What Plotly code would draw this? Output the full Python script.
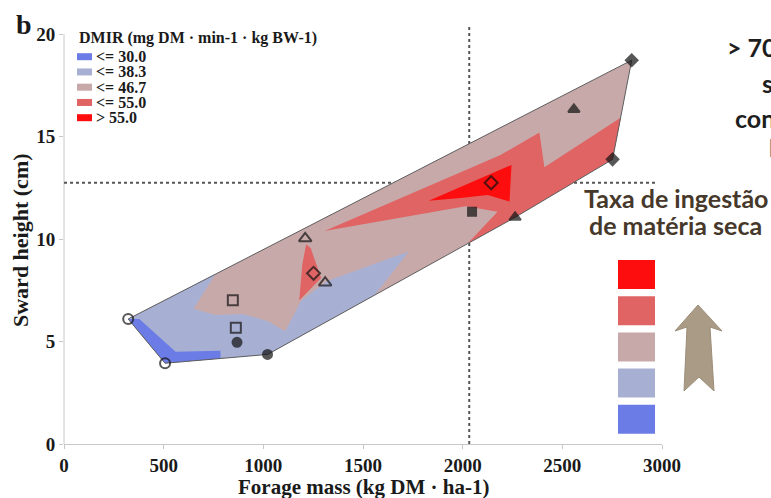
import plotly.graph_objects as go

# ---------------------------------------------------------------- data
# Paddock observations: forage mass (kg DM/ha) vs sward height (cm)
forage_mass = [322, 507, 868, 1021, 847, 862, 1210, 1310, 1252, 2143,
               2047, 2263, 2558, 2752, 2848]
sward_height = [6.10, 3.94, 4.96, 4.37, 7.02, 5.67, 10.03, 7.87, 8.33, 12.75,
                11.33, 11.06, 16.33, 13.89, 18.73]
marker_symbol = ["circle-open", "circle-open", "circle", "circle",
                 "square-open", "square-open", "triangle-up-open", "triangle-up-open",
                 "diamond-open", "diamond-open", "square", "triangle-up",
                 "triangle-up", "diamond", "diamond"]

# Reference levels (dotted guides)
ref_forage_mass = 2033
ref_sward_height = 12.75
ref_height_line_end = 2965

# DMIR classes
dmir_labels = ["<= 30.0", "<= 38.3", "<= 46.7", "<= 55.0", "> 55.0"]
dmir_colors = ["#6c7ce6", "#a7b0d2", "#c8a9aa", "#e06464", "#fd0d0d"]

# Class boundaries of the interpolated DMIR surface
dmir_30_x = [322, 507, 785, 785, 560, 378]
dmir_30_y = [6.10, 3.94, 4.17, 4.55, 4.50, 6.10]

dmir_38_x = [322, 760, 650, 760, 900, 1020, 1110, 1190, 1320, 1730, 1560, 1021, 507]
dmir_38_y = [6.10, 8.30, 6.60, 6.30, 6.35, 6.00, 5.50, 7.00, 7.95, 9.40, 7.28, 4.37, 3.94]

dmir_55a_x = [1215, 1238, 1290, 1180, 1196]
dmir_55a_y = [9.75, 9.55, 8.10, 7.00, 8.80]

dmir_55b_x = [1307, 2190, 2385, 2410, 2794, 2752, 2263, 2025, 2175, 2015]
dmir_55b_y = [10.40, 14.10, 15.20, 13.50, 15.93, 13.89, 11.06, 9.78, 11.33, 11.60]

dmir_hi_x = [1830, 2245, 2235, 2125, 1990]
dmir_hi_y = [11.87, 13.62, 11.83, 12.15, 12.00]

x_ticks = [0, 500, 1000, 1500, 2000, 2500, 3000]
y_ticks = [0, 5, 10, 15, 20]

# ---------------------------------------------------------------- layout geometry
W, H = 771, 498
PL, PR, PT, PB = 64, 662, 27, 444
SERIF = "Liberation Serif, Times New Roman, serif"
SANS = "Lato, Open Sans, sans-serif"


def px(x):
    return (x - PL) / (PR - PL)


def py(y):
    return (PB - y) / (PB - PT)


def convex_hull(xs, ys):
    pts = sorted(zip(xs, ys))

    def cross(o, a, b):
        return (a[0] - o[0]) * (b[1] - o[1]) - (a[1] - o[1]) * (b[0] - o[0])

    lower, upper = [], []
    for p in pts:
        while len(lower) >= 2 and cross(lower[-2], lower[-1], p) <= 0:
            lower.pop()
        lower.append(p)
    for p in reversed(pts):
        while len(upper) >= 2 and cross(upper[-2], upper[-1], p) <= 0:
            upper.pop()
        upper.append(p)
    hull = lower[:-1] + upper[:-1]
    hull.append(hull[0])
    return [p[0] for p in hull], [p[1] for p in hull]


hull_x, hull_y = convex_hull(forage_mass, sward_height)

fig = go.Figure()


def region(xs, ys, color):
    fig.add_trace(go.Scatter(
        x=list(xs) + [xs[0]], y=list(ys) + [ys[0]], mode="lines",
        fill="toself", fillcolor=color, line=dict(width=0),
        hoverinfo="skip", showlegend=False))


# hull filled with the middle class, then the other classes on top
region(hull_x, hull_y, dmir_colors[2])
region(dmir_38_x, dmir_38_y, dmir_colors[1])
region(dmir_30_x, dmir_30_y, dmir_colors[0])
region(dmir_55a_x, dmir_55a_y, dmir_colors[3])
region(dmir_55b_x, dmir_55b_y, dmir_colors[3])
region(dmir_hi_x, dmir_hi_y, dmir_colors[4])

# hull outline
fig.add_trace(go.Scatter(x=hull_x, y=hull_y, mode="lines",
                         line=dict(color="#5e5e5e", width=1),
                         hoverinfo="skip", showlegend=False))

# observations
sym_size = {"circle-open": 10, "circle": 9, "square-open": 10, "square": 8,
            "triangle-up-open": 11, "triangle-up": 10, "diamond-open": 10,
            "diamond": 9}
fig.add_trace(go.Scatter(
    x=forage_mass, y=sward_height, mode="markers",
    marker=dict(symbol=marker_symbol, size=[sym_size[s] for s in marker_symbol],
                color="#111111", line=dict(color="#111111", width=2)),
    hoverinfo="x+y", showlegend=False))

shapes = []
# dotted guide lines, behind the surface
shapes.append(dict(type="line", xref="x", yref="y", layer="below",
                   x0=ref_forage_mass, x1=ref_forage_mass, y0=0, y1=20.35,
                   line=dict(color="#555555", width=2, dash="dot")))
shapes.append(dict(type="line", xref="x", yref="y", layer="below",
                   x0=0, x1=ref_height_line_end, y0=ref_sward_height, y1=ref_sward_height,
                   line=dict(color="#555555", width=2, dash="dot")))
# y axis line
shapes.append(dict(type="line", xref="paper", yref="y", layer="below",
                   x0=0, x1=0, y0=0, y1=20, line=dict(color="#c8c8c8", width=1)))

annotations = []

# legend inside the plot
annotations.append(dict(xref="paper", yref="paper", x=px(77), y=py(38),
                        xanchor="left", yanchor="middle", showarrow=False,
                        text="<b>DMIR (mg DM · min-1 · kg BW-1)</b>",
                        font=dict(family=SERIF, size=16, color="#1a1a1a")))
for i, (lab, col) in enumerate(zip(dmir_labels, dmir_colors)):
    yc = 56.7 + i * 15.25
    shapes.append(dict(type="rect", xref="paper", yref="paper",
                       x0=px(77), x1=px(92), y0=py(yc + 3.5), y1=py(yc - 3.5),
                       fillcolor=col, line=dict(width=0)))
    annotations.append(dict(xref="paper", yref="paper", x=px(94), y=py(yc),
                            xanchor="left", yanchor="middle", showarrow=False,
                            text="<b>" + lab.replace("<", "&lt;").replace(">", "&gt;") + "</b>",
                            font=dict(family=SERIF, size=16, color="#1a1a1a")))

# axis titles and panel letter
annotations.append(dict(xref="paper", yref="paper", x=px(363), y=py(487),
                        xanchor="center", yanchor="middle", showarrow=False,
                        text="<b>Forage mass (kg DM · ha-1)</b>",
                        font=dict(family=SERIF, size=21, color="#1a1a1a")))
annotations.append(dict(xref="paper", yref="paper", x=px(21), y=py(240),
                        xanchor="center", yanchor="middle", showarrow=False,
                        textangle=-90, text="<b>Sward height (cm)</b>",
                        font=dict(family=SERIF, size=22, color="#1a1a1a")))
annotations.append(dict(xref="paper", yref="paper", x=px(24), y=py(24),
                        xanchor="center", yanchor="middle", showarrow=False,
                        text="<b>b</b>",
                        font=dict(family=SERIF, size=28, color="#1a1a1a")))

# side panel text
side_text = [("&gt; 70", 725, 47, "#1e1e1e", True),
             ("s", 760, 83, "#1e1e1e", True),
             ("con", 733, 118, "#1e1e1e", True),
             ("E", 766, 147, "#7a7a7a", False),
             ("Taxa de ingestão", 582, 198, "#46382a", True),
             ("de matéria seca", 587, 225, "#46382a", True)]
for txt, x0, y0, col, bold in side_text:
    annotations.append(dict(xref="paper", yref="paper", x=px(x0), y=py(y0),
                            xanchor="left", yanchor="middle", showarrow=False,
                            text=("<b>%s</b>" % txt) if bold else txt,
                            font=dict(family=SANS, size=25, color=col)))

# side colour scale, highest class on top
for i, col in enumerate(reversed(dmir_colors)):
    top = 260 + i * 36.2
    shapes.append(dict(type="rect", xref="paper", yref="paper",
                       x0=px(618), x1=px(655), y0=py(top + 29), y1=py(top),
                       fillcolor=col, line=dict(width=0)))

# upward arrow
arrow_px = [(698, 305), (722, 331), (710, 327), (714, 391), (699, 377),
            (684, 391), (687, 327), (675, 331)]
path = "M " + " L ".join("%.5f %.5f" % (px(a), py(b)) for a, b in arrow_px) + " Z"
shapes.append(dict(type="path", xref="paper", yref="paper", path=path,
                   fillcolor="#a99b86", line=dict(color="#9c8e79", width=1)))

fig.update_layout(
    width=W, height=H,
    margin=dict(l=PL, r=W - PR, t=PT, b=H - PB),
    paper_bgcolor="white", plot_bgcolor="white",
    shapes=shapes, annotations=annotations, showlegend=False,
    xaxis=dict(range=[0, 3000], tickvals=x_ticks, showgrid=False, zeroline=False,
               showline=True, linecolor="#c8c8c8", linewidth=1,
               ticks="outside", ticklen=4, tickcolor="#c8c8c8",
               tickfont=dict(family=SERIF, size=19, color="#1a1a1a", weight="bold")),
    yaxis=dict(range=[0, 20.35], tickvals=y_ticks, showgrid=False, zeroline=False,
               showline=False, ticks="outside", ticklen=4, tickcolor="#c8c8c8",
               tickfont=dict(family=SERIF, size=19, color="#1a1a1a", weight="bold")),
)

fig.write_html("out.html")
